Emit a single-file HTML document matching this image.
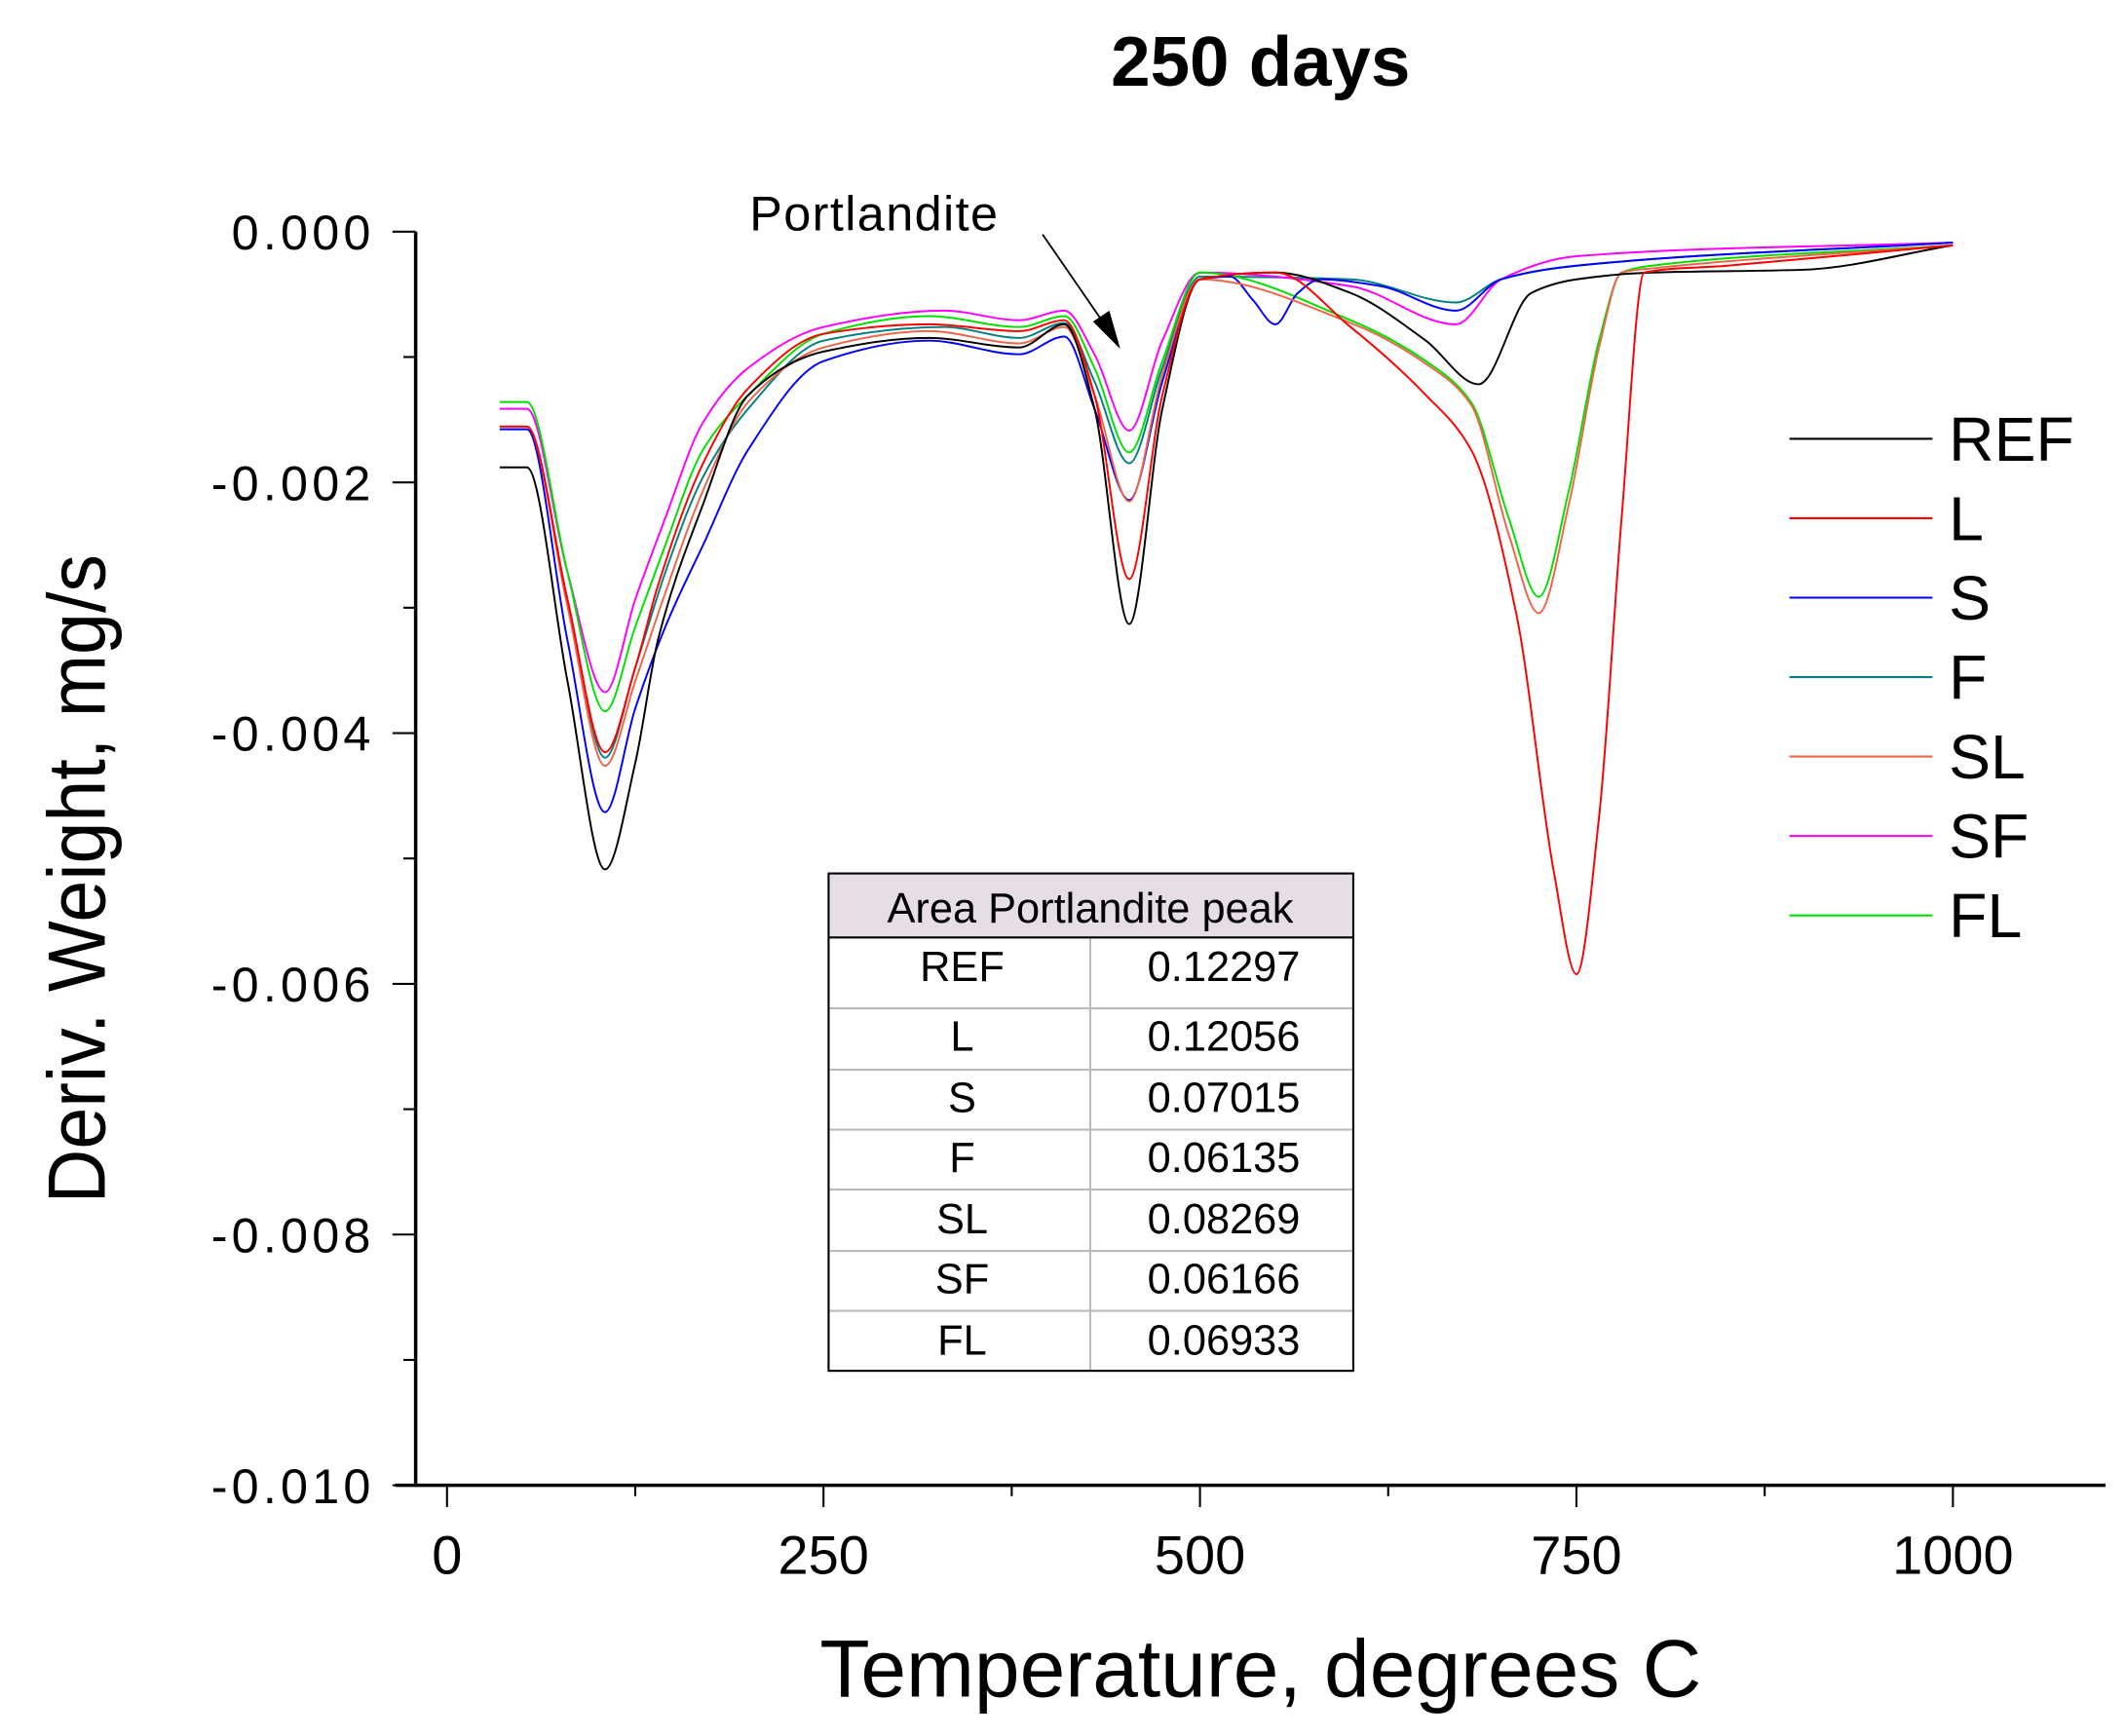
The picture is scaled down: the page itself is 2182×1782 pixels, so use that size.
<!DOCTYPE html>
<html><head><meta charset="utf-8"><style>
html,body{margin:0;padding:0;background:#fff}
svg{display:block}
text{font-family:"Liberation Sans",Arial,sans-serif}
</style></head><body>
<svg id="chart" width="2182" height="1782" viewBox="0 0 1560 1274" preserveAspectRatio="none" xmlns="http://www.w3.org/2000/svg">
<text x="925" y="63" font-size="52" font-weight="bold" text-anchor="middle">250 days</text>
<g id="axes"></g>
<g id="series"></g>
<text x="925" y="1245" font-size="60" text-anchor="middle">Temperature, degrees C</text>
<text x="0" y="0" font-size="60" text-anchor="middle" transform="translate(77 645) rotate(-90) scale(0.92 1)">Deriv. Weight, mg/s</text>
<text x="550" y="169" font-size="36" letter-spacing="1">Portlandite</text>
<line x1="765" y1="172" x2="816" y2="246" stroke="#000" stroke-width="1.3"/>
<polygon points="822,256 802,236 814,228" fill="#000"/>
<g id="legend"></g>
<g>
<rect x="608" y="641" width="385" height="47" fill="#e6dde6" stroke="none"/>
<g stroke="#bbb" stroke-width="1.5">
<line x1="800" y1="688" x2="800" y2="1006"/>
<line x1="608" y1="740" x2="993" y2="740"/>
<line x1="608" y1="785" x2="993" y2="785"/>
<line x1="608" y1="829" x2="993" y2="829"/>
<line x1="608" y1="873" x2="993" y2="873"/>
<line x1="608" y1="918" x2="993" y2="918"/>
<line x1="608" y1="962" x2="993" y2="962"/>
</g>
<line x1="608" y1="688" x2="993" y2="688" stroke="#000" stroke-width="1.5"/>
<rect x="608" y="641" width="385" height="365" fill="none" stroke="#000" stroke-width="1.5"/>
<g font-size="31" text-anchor="middle">
<text x="800" y="677">Area Portlandite peak</text>
<text x="706" y="720">REF</text><text x="898" y="720">0.12297</text>
<text x="706" y="771">L</text><text x="898" y="771">0.12056</text>
<text x="706" y="816">S</text><text x="898" y="816">0.07015</text>
<text x="706" y="860">F</text><text x="898" y="860">0.06135</text>
<text x="706" y="905">SL</text><text x="898" y="905">0.08269</text>
<text x="706" y="949">SF</text><text x="898" y="949">0.06166</text>
<text x="706" y="994">FL</text><text x="898" y="994">0.06933</text>
</g>
</g>
</svg>
<script>
const seriesNames = ["REF","L","S","F","SL","SF","FL"];
const seriesColors = ["#000000","#ff0000","#0000ff","#008080","#f06448","#ff00ff","#00e000"];
const xTicks = [0,250,500,750,1000];
const yTicks = [0,-0.002,-0.004,-0.006,-0.008,-0.010];
const yTickLabels = ["0.000","-0.002","-0.004","-0.006","-0.008","-0.010"];
const tREF = [35,53,80,105,125,140,170,200,250,320,380,410,430,453,475,500,550,600,650,685,720,750,800,900,1000];
const vREF = [-1.880e-3,-1.880e-3,-3.587e-3,-5.087e-3,-4.239e-3,-3.261e-3,-2.174e-3,-1.304e-3,-0.957e-3,-0.848e-3,-0.924e-3,-0.739e-3,-1.413e-3,-3.130e-3,-1.413e-3,-0.380e-3,-0.326e-3,-0.489e-3,-0.870e-3,-1.217e-3,-0.489e-3,-0.380e-3,-0.326e-3,-0.304e-3,-0.109e-3];
const tL = [35,53,80,105,125,140,170,200,250,320,380,410,430,453,475,500,550,600,650,680,710,735,750,765,780,795,850,1000];
const vL = [-1.554e-3,-1.554e-3,-2.935e-3,-4.152e-3,-3.478e-3,-2.826e-3,-1.848e-3,-1.250e-3,-0.815e-3,-0.739e-3,-0.793e-3,-0.707e-3,-1.304e-3,-2.772e-3,-1.304e-3,-0.380e-3,-0.326e-3,-0.761e-3,-1.304e-3,-1.739e-3,-3.043e-3,-5.109e-3,-5.924e-3,-4.674e-3,-2.283e-3,-0.326e-3,-0.272e-3,-0.109e-3];
const tS = [35,53,80,105,125,145,170,200,250,320,380,410,430,453,475,500,520,535,550,565,580,620,670,700,750,1000];
const vS = [-1.576e-3,-1.576e-3,-3.261e-3,-4.630e-3,-3.804e-3,-3.152e-3,-2.500e-3,-1.739e-3,-1.033e-3,-0.870e-3,-0.978e-3,-0.837e-3,-1.413e-3,-2.141e-3,-1.196e-3,-0.380e-3,-0.359e-3,-0.543e-3,-0.739e-3,-0.489e-3,-0.380e-3,-0.435e-3,-0.630e-3,-0.380e-3,-0.272e-3,-0.087e-3];
const tF = [35,53,80,105,125,145,170,200,250,330,380,410,430,453,475,500,600,670,700,750,1000];
const vF = [-1.576e-3,-1.576e-3,-2.935e-3,-4.196e-3,-3.478e-3,-2.717e-3,-1.957e-3,-1.413e-3,-0.870e-3,-0.761e-3,-0.848e-3,-0.728e-3,-1.196e-3,-1.848e-3,-1.087e-3,-0.359e-3,-0.380e-3,-0.565e-3,-0.380e-3,-0.272e-3,-0.087e-3];
const tSL = [35,53,80,105,125,145,170,200,250,320,380,410,430,453,475,500,600,650,680,705,725,745,765,780,800,1000];
const vSL = [-1.554e-3,-1.554e-3,-2.989e-3,-4.261e-3,-3.587e-3,-2.880e-3,-2.065e-3,-1.359e-3,-0.924e-3,-0.793e-3,-0.891e-3,-0.761e-3,-1.304e-3,-2.152e-3,-1.141e-3,-0.380e-3,-0.728e-3,-1.054e-3,-1.380e-3,-2.413e-3,-3.043e-3,-2.174e-3,-0.924e-3,-0.326e-3,-0.293e-3,-0.109e-3];
const tSF = [35,53,80,105,125,145,170,200,250,330,380,410,430,453,475,500,600,670,700,750,1000];
const vSF = [-1.413e-3,-1.413e-3,-2.717e-3,-3.674e-3,-2.935e-3,-2.283e-3,-1.522e-3,-1.087e-3,-0.761e-3,-0.630e-3,-0.707e-3,-0.630e-3,-0.978e-3,-1.587e-3,-0.870e-3,-0.326e-3,-0.435e-3,-0.739e-3,-0.380e-3,-0.196e-3,-0.087e-3];
const tFL = [35,53,80,105,125,145,170,200,250,320,380,410,430,453,475,500,600,650,680,705,725,745,765,780,800,1000];
const vFL = [-1.359e-3,-1.359e-3,-2.717e-3,-3.826e-3,-3.152e-3,-2.500e-3,-1.739e-3,-1.304e-3,-0.815e-3,-0.674e-3,-0.761e-3,-0.674e-3,-1.087e-3,-1.761e-3,-1.033e-3,-0.326e-3,-0.707e-3,-1.033e-3,-1.359e-3,-2.283e-3,-2.913e-3,-2.065e-3,-0.870e-3,-0.326e-3,-0.272e-3,-0.109e-3];

const NS = "http://www.w3.org/2000/svg";
const X0 = 328, X1 = 1433, Y0 = 170, Y1 = 1090;
function xs(t){ return X0 + (t - 0) / 1000 * (X1 - X0); }
function ys(v){ return Y0 + (0 - v) / 0.010 * (Y1 - Y0); }
function mk(tag, attrs, parent){ const e = document.createElementNS(NS, tag); for (const k in attrs) e.setAttribute(k, attrs[k]); parent.appendChild(e); return e; }

const axes = document.getElementById('axes');
const yAxis = mk('line', {x1:305,y1:Y0,x2:305,y2:Y1+1,stroke:'#000','stroke-width':2.5}, axes);


const xAxis = mk('line', {x1:290,y1:Y1,x2:1545,y2:Y1,stroke:'#000','stroke-width':2.5}, axes);


yTicks.forEach((v, i) => {
  const y = ys(v);
  mk('line', {x1:288,y1:y,x2:305,y2:y,stroke:'#000','stroke-width':1.5}, axes);
  if (i < yTicks.length - 1) { const ym = ys(v - 0.001); mk('line', {x1:296,y1:ym,x2:305,y2:ym,stroke:'#000','stroke-width':1.5}, axes); }
  const t = mk('text', {x:275,y:y+13,'font-size':36,'text-anchor':'end','letter-spacing':3}, axes);
  t.textContent = yTickLabels[i];
  
  
});
xTicks.forEach((v, i) => {
  const x = xs(v);
  mk('line', {x1:x,y1:Y1,x2:x,y2:1106,stroke:'#000','stroke-width':1.5}, axes);
  if (i < xTicks.length - 1) { const xm = xs(v + 125); mk('line', {x1:xm,y1:Y1,x2:xm,y2:1098,stroke:'#000','stroke-width':1.5}, axes); }
  const t = mk('text', {x:x,y:1155,'font-size':40,'text-anchor':'middle'}, axes);
  t.textContent = String(v);
  
  
});

function pathD(ts, vs){
  const p = ts.map((t, i) => [xs(t), ys(vs[i])]);
  const n = p.length;
  const d = [], m = new Array(n);
  for (let i = 0; i < n-1; i++) d.push((p[i+1][1]-p[i][1])/(p[i+1][0]-p[i][0]));
  m[0] = d[0]; m[n-1] = d[n-2];
  for (let i = 1; i < n-1; i++) {
    if (d[i-1]*d[i] <= 0) m[i] = 0;
    else { const h0 = p[i][0]-p[i-1][0], h1 = p[i+1][0]-p[i][0]; const w1 = 2*h1+h0, w2 = h1+2*h0; m[i] = (w1+w2)/(w1/d[i-1]+w2/d[i]); }
  }
  let s = 'M' + p[0][0].toFixed(1) + ' ' + p[0][1].toFixed(1);
  for (let i = 0; i < n-1; i++) {
    const h = (p[i+1][0]-p[i][0])/3;
    s += ' C' + (p[i][0]+h).toFixed(1) + ' ' + (p[i][1]+m[i]*h).toFixed(1) + ' ' + (p[i+1][0]-h).toFixed(1) + ' ' + (p[i+1][1]-m[i+1]*h).toFixed(1) + ' ' + p[i+1][0].toFixed(1) + ' ' + p[i+1][1].toFixed(1);
  }
  return s;
}
const allT = [tREF, tL, tS, tF, tSL, tSF, tFL];
const allV = [vREF, vL, vS, vF, vSL, vSF, vFL];
const sg = document.getElementById('series');
const order = [3,5,6,2,4,0,1];
order.forEach(i => {
  const p = mk('path', {d: pathD(allT[i], allV[i]), fill:'none', stroke: seriesColors[i], 'stroke-width': 1.4}, sg);
  
  
});
const lg = document.getElementById('legend');
seriesNames.forEach((n, i) => {
  const y = 322 + i * 58.3;
  const l = mk('line', {x1:1313,y1:y,x2:1418,y2:y,stroke:seriesColors[i],'stroke-width':1.5}, lg);
  
  
  const t = mk('text', {x:1430,y:y+16,'font-size':46}, lg);
  t.textContent = n;
  
  
});
</script>
</body></html>
